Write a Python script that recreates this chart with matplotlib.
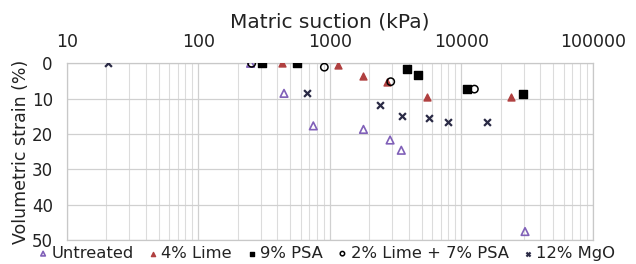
import matplotlib
matplotlib.use("Agg")
import matplotlib.pyplot as plt
from matplotlib.ticker import LogLocator, FixedLocator, NullFormatter

# Data (matric suction kPa, volumetric strain %)
untreated_x = [250, 449, 750, 1805, 2877, 3500, 30550]
untreated_y = [0.0, 8.5, 17.7, 18.7, 21.7, 24.6, 47.6]

lime4_x = [431, 1161, 1805, 2711, 5520, 23770]
lime4_y = [0.0, 0.5, 3.5, 5.4, 9.4, 9.4]

psa9_x = [304, 561, 3855, 4670, 11120, 29370]
psa9_y = [0.0, 0.0, 1.6, 3.3, 7.3, 8.7]

lime2psa7_x = [255, 910, 2909, 12590]
lime2psa7_y = [0.0, 1.1, 5.2, 7.3]

mgo12_x = [20.7, 676, 2415, 3525, 5690, 7890, 15630]
mgo12_y = [0.0, 8.5, 11.8, 14.9, 15.6, 16.6, 16.6]

x_ticks = [10, 100, 1000, 10000, 100000]
x_tick_labels = ["10", "100", "1000", "10000", "100000"]
y_ticks = [0, 10, 20, 30, 40, 50]

fig = plt.figure(figsize=(6.36, 2.64), dpi=100)
ax = fig.add_axes([0.1049, 0.0909, 0.8271, 0.6693])

ax.set_xscale("log")
ax.set_xlim(10, 100000)
ax.set_ylim(50, 0)

ax.scatter(untreated_x, untreated_y, marker="^", s=30, facecolors="none",
           edgecolors="#8060B8", linewidths=1.2, label="Untreated", zorder=3)
ax.scatter(lime4_x, lime4_y, marker="^", s=25, color="#B04040",
           label="4% Lime", zorder=3)
ax.scatter(psa9_x, psa9_y, marker="s", s=28, color="#000000",
           label="9% PSA", zorder=3)
ax.scatter(lime2psa7_x, lime2psa7_y, marker="o", s=28, facecolors="none",
           edgecolors="#000000", linewidths=1.1, label="2% Lime + 7% PSA", zorder=4)
ax.scatter(mgo12_x, mgo12_y, marker="x", s=24, color="#2a2a45",
           linewidths=1.6, label="12% MgO", zorder=3)

ax.xaxis.set_major_locator(FixedLocator(x_ticks))
ax.set_xticklabels(x_tick_labels)
ax.xaxis.set_minor_locator(LogLocator(base=10, subs=range(2, 10)))
ax.xaxis.set_minor_formatter(NullFormatter())
ax.set_yticks(y_ticks)

ax.xaxis.tick_top()
ax.xaxis.set_label_position("top")
ax.tick_params(axis="both", which="both", length=0, labelsize=12.5, colors="#222222")
ax.tick_params(axis="y", labelsize=12)
ax.tick_params(axis="x", pad=9)
ax.tick_params(axis="y", pad=10)

ax.grid(True, which="major", color="#d0d0d0", linewidth=0.9)
ax.grid(True, which="minor", axis="x", color="#dcdcdc", linewidth=0.8)
ax.set_axisbelow(True)
for sp in ax.spines.values():
    sp.set_color("#c8c8c8")
    sp.set_linewidth(0.9)

ax.set_xlabel("Matric suction (kPa)", fontsize=14.5, labelpad=4, color="#222222")
ax.set_ylabel("Volumetric strain (%)", fontsize=12.5, labelpad=1, color="#222222")

leg = fig.legend(loc="center", bbox_to_anchor=(0.51, 0.040), ncol=5,
                 frameon=False, fontsize=11.8, handletextpad=-0.1,
                 columnspacing=0.6, markerscale=0.6, handlelength=1.2,
                 borderpad=0.0)
for t in leg.get_texts():
    t.set_color("#222222")

fig.savefig("out.png", dpi=100)
